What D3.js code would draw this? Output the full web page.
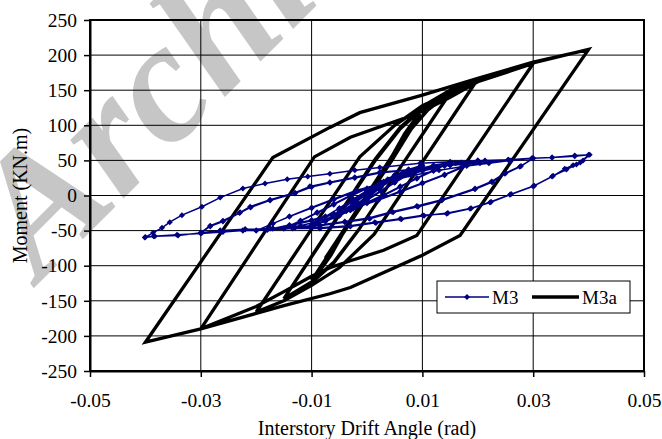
<!DOCTYPE html>
<html><head><meta charset="utf-8">
<script src="https://cdn.jsdelivr.net/npm/d3@7"></script>
<style>
body{margin:0;background:#fff}
svg{display:block}
text{font-family:"Liberation Serif","Times New Roman",serif;fill:#000}
</style>
</head><body>
<svg id="chart" width="662" height="439"></svg>
<script>
// ---- data ----
const xTickValues = [-0.05, -0.03, -0.01, 0.01, 0.03, 0.05];
const xTickLabels = ["-0.05", "-0.03", "-0.01", "0.01", "0.03", "0.05"];
const yTickValues = [-250, -200, -150, -100, -50, 0, 50, 100, 150, 200, 250];
const yTickLabels = ["-250", "-200", "-150", "-100", "-50", "0", "50", "100", "150", "200", "250"];
const seriesNames = ["M3", "M3a"];
const xTitle = "Interstory Drift Angle (rad)";
const yTitle = "Moment (KN.m)";
const watermark = "Archive";

// M3 : [drift (rad), moment (kN.m)]
const m3 = [
[0,0],[0.002,12],[0.00375,22],[0.002,10],[0,-3],[-0.002,-12],[-0.00375,-22],[-0.002,-10],[0,3],[0.002,14],[0.00375,23],[0.002,11],[0,-2],[-0.002,-13],[-0.00375,-22],[-0.002,-9],
[0,4],[0.0025,16],[0.005,28],[0.0025,12],[0,-5],[-0.0025,-17],[-0.005,-28],[-0.0025,-13],[0,5],[0.0025,17],[0.005,29],[0.0025,13],[0,-4],[-0.0025,-17],[-0.005,-28],[-0.0025,-12],
[0,6],[0.0025,18],[0.005,28],[0.0075,36],[0.005,24],[0.0025,12],[0,-3],[-0.0025,-16],[-0.005,-27],[-0.0075,-36],[-0.005,-24],[-0.0025,-12],[0,2],[0.0025,15],[0.005,26],[0.0075,37],[0.005,25],[0.0025,13],[0,-2],[-0.0025,-15],[-0.005,-26],[-0.0075,-36],
[-0.005,-22],[-0.0025,-8],[0,6],[0.0025,18],[0.005,28],[0.0075,36],[0.01,42],[0.0075,30],[0.005,18],[0.0025,6],[0,-7],[-0.0025,-19],[-0.005,-29],[-0.0075,-37],[-0.01,-42],
[-0.0075,-30],[-0.005,-18],[-0.0025,-6],[0,7],[0.0025,19],[0.005,29],[0.0075,37],[0.01,43],[0.0075,31],[0.005,19],[0.0025,7],[0,-6],[-0.0025,-18],[-0.005,-28],[-0.0075,-36],[-0.01,-42],
[-0.0075,-30],[-0.005,-18],[-0.0025,-5],[0,7],[0.003,19],[0.006,29],[0.009,37],[0.012,43],[0.015,47],
[0.012,36],[0.009,25],[0.006,13],[0.003,1],[0,-10],[-0.003,-21],[-0.006,-30],[-0.009,-37],[-0.012,-43],[-0.015,-47],
[-0.012,-36],[-0.009,-25],[-0.006,-13],[-0.003,-1],[0,10],[0.003,20],[0.006,29],[0.009,36],[0.012,42],[0.015,47],
[0.012,35],[0.009,24],[0.006,12],[0.003,0],[0,-11],[-0.003,-21],[-0.006,-30],[-0.009,-37],[-0.012,-43],[-0.015,-47],
[-0.012,-36],[-0.009,-24],[-0.006,-12],[-0.003,0],[0,10],[0.004,22],[0.008,32],[0.012,40],[0.016,46],[0.02,50],
[0.017,40],[0.014,30],[0.01,18],[0.006,6],[0.002,-6],[-0.002,-16],[-0.006,-26],[-0.01,-35],[-0.014,-42],[-0.017,-47],[-0.02,-50],
[-0.017,-40],[-0.014,-30],[-0.01,-18],[-0.006,-6],[-0.002,6],[0.002,16],[0.006,26],[0.01,35],[0.014,42],[0.017,47],[0.02,50],
[0.017,39],[0.014,29],[0.01,17],[0.006,5],[0.002,-7],[-0.002,-17],[-0.006,-27],[-0.01,-36],[-0.014,-43],[-0.017,-47],[-0.02,-50],
[-0.017,-40],[-0.014,-30],[-0.01,-17],[-0.006,-5],[-0.002,7],[0.003,18],[0.008,28],[0.013,36],[0.018,42],[0.022,46],[0.026,50],[0.03,53],
[0.0276,41],[0.0249,31],[0.0226,19],[0.0195,9],[0.0135,-7],[0.0092,-16],[0.0047,-24],[0.0005,-33],[-0.004,-38],[-0.0085,-43],[-0.013,-46],[-0.0175,-47],[-0.022,-48],[-0.0265,-50],[-0.03,-53],
[-0.0283,-43],[-0.026,-36],[-0.0229,-24],[-0.0211,-16],[-0.0175,-6],[-0.013,4],[-0.0103,13],[-0.0067,19],[-0.0022,26],[0.0023,33],[0.0096,38],[0.015,43],[0.0204,46],[0.0258,50],[0.03,53],
[0.0278,42],[0.025,32],[0.0225,20],[0.0195,10],[0.0135,-6],[0.009,-15],[0.0045,-23],[0.0003,-32],[-0.004,-37],[-0.0085,-42],[-0.013,-45],[-0.0175,-47],[-0.022,-48],[-0.0265,-50],[-0.03,-53],
[-0.0283,-44],[-0.026,-37],[-0.023,-25],[-0.021,-17],[-0.0175,-7],[-0.013,3],[-0.01,12],[-0.0067,18],[-0.0022,25],[0.0023,32],[0.0096,38],[0.015,43],[0.0213,49],[0.0255,51],[0.0298,53],[0.0334,54],[0.0375,56],[0.04,58],
[0.0385,47],[0.0372,43],[0.0357,38],[0.0334,27],[0.03,13],[0.0258,1],[0.0222,-10],[0.0186,-19],[0.0144,-26],[0.0101,-28],[0.006,-33],[0.0014,-38],[-0.0031,-43],[-0.0085,-46],[-0.0134,-46],[-0.018,-48],[-0.0224,-50],[-0.026,-51],[-0.0298,-53],[-0.0341,-57],[-0.0383,-58],[-0.0401,-60],
[-0.0386,-53],[-0.037,-46],[-0.0356,-38],[-0.0334,-28],[-0.0298,-16],[-0.0265,-3],[-0.0224,10],[-0.0184,17],[-0.0144,23],[-0.0107,27],[-0.0067,31],[-0.0022,36],[0.0023,40],[0.0096,46],[0.015,48],[0.0213,50],[0.0255,51],[0.0298,53],[0.0334,54],[0.0375,57],[0.0402,58],
[0.039,50],[0.0378,44],[0.036,37],[0.0336,28],[0.0302,14],[0.026,2],[0.0224,-9],[0.0188,-18],[0.0146,-25],[0.0103,-29],[0.0062,-34],[0.0016,-39],[-0.003,-44],[-0.0085,-47],[-0.0134,-47],[-0.018,-49],[-0.0224,-50],[-0.026,-52],[-0.03,-54],[-0.0343,-56],[-0.0385,-58],[-0.04,-59]
];

// M3a : [drift (rad), moment (kN.m)]
const m3a = [
[0,0],[0.00375,45],[-0.00375,-45],[0.00375,46],[-0.00375,-44],
[0.005,60],[-0.005,-60],[0.005,61],[-0.005,-59],
[0.0075,90],[-0.0075,-90],[0.0075,91],[-0.0075,-89],
[0.0035,42],[0.0065,84],[0.0085,107],[0.01,122],
[-0.0035,-42],[-0.0065,-85],[-0.0085,-107],[-0.01,-121],
[0.0038,45],[0.0068,88],[0.0088,110],[0.01,123],
[-0.0038,-45],[-0.0068,-88],[-0.0088,-109],[-0.01,-121],
[0.0045,50],[0.008,95],[0.011,122],[0.015,146],
[-0.0016,-50],[-0.006,-95],[-0.01,-123],[-0.015,-147],
[0.0015,50],[0.006,95],[0.01,124],[0.015,146],
[-0.0016,-50],[-0.006,-96],[-0.01,-124],[-0.015,-147],
[0.0015,52],[0.006,97],[0.01,125],[0.015,148],[0.02,166],
[0.0013,-55],[-0.005,-103],[-0.01,-128],[-0.015,-150],[-0.02,-166],
[-0.0013,55],[0.005,100],[0.01,127],[0.015,150],[0.02,166],
[0.0013,-55],[-0.005,-103],[-0.01,-128],[-0.015,-150],[-0.02,-166],
[-0.0013,55],[0.005,100],[0.01,128],[0.02,165],[0.03,188],
[0.009,-57],[0.003,-78],[-0.003,-93],[-0.0067,-103],[-0.01,-115],[-0.015,-137],[-0.02,-158],[-0.03,-190],
[-0.0095,55],[-0.003,83],[0.0067,110],[0.01,120],[0.015,140],[0.02,162],[0.03,188],
[0.009,-57],[0.003,-78],[-0.003,-93],[-0.0067,-103],[-0.01,-115],[-0.015,-137],[-0.02,-158],[-0.03,-190],
[-0.0095,55],[-0.003,83],[0.0067,110],[0.01,121],[0.02,163],[0.03,189],[0.04,208],
[0.0168,-57],[0.01,-85],[-0.003,-131],[-0.0067,-140],[-0.015,-157],[-0.02,-168],[-0.03,-190],[-0.04,-209],
[-0.017,54],[-0.0067,97],[-0.0013,118],[0.01,143],[0.02,167],[0.03,190],[0.04,208]
];

// ---- layout ----
const svg = d3.select("#chart");
const plot = {left: 90, right: 644, top: 20, bottom: 371};
const x = d3.scaleLinear().domain([-0.05, 0.05]).range([plot.left, plot.right]);
const y = d3.scaleLinear().domain([-250, 250]).range([plot.bottom, plot.top]);

// watermark (behind everything)
svg.append("text")
  .attr("transform", "translate(40,282) rotate(-45)")
  .style("font-size", "172px").style("font-weight", "bold").style("font-style", "italic")
  .style("fill", "#c6c6c6")
  .text(watermark);

// grid
const grid = svg.append("g");
grid.selectAll("line.h").data(yTickValues).join("line")
  .attr("x1", plot.left).attr("x2", plot.right)
  .attr("y1", d => y(d)).attr("y2", d => y(d))
  .attr("stroke", "#000").attr("stroke-width", 1);
grid.selectAll("line.v").data(xTickValues.slice(1, -1)).join("line")
  .attr("y1", plot.top).attr("y2", plot.bottom)
  .attr("x1", d => x(d)).attr("x2", d => x(d))
  .attr("stroke", "#000").attr("stroke-width", 1);

// frame
svg.append("rect").attr("x", plot.left).attr("y", plot.top)
  .attr("width", plot.right - plot.left).attr("height", plot.bottom - plot.top)
  .attr("fill", "none").attr("stroke", "#000").attr("stroke-width", 2);

// axes
const xAxis = d3.axisBottom(x).tickValues(xTickValues)
  .tickFormat((d, i) => xTickLabels[i]).tickSize(6).tickSizeOuter(0).tickPadding(16);
const yAxis = d3.axisLeft(y).tickValues(yTickValues)
  .tickFormat((d, i) => yTickLabels[i]).tickSize(6).tickSizeOuter(0).tickPadding(7);
const gx = svg.append("g").attr("transform", `translate(0,${plot.bottom})`).call(xAxis);
const gy = svg.append("g").attr("transform", `translate(${plot.left},0)`).call(yAxis);
[gx, gy].forEach(g => {
  g.select(".domain").attr("stroke", "#000").attr("stroke-width", 2);
  g.selectAll(".tick line").attr("stroke", "#000").attr("stroke-width", 1.5);
  g.selectAll(".tick text").style("font-size", "19.5px")
    .style("font-family", "'Liberation Serif','Times New Roman',serif").attr("fill", "#000");
});

// series
const line = d3.line().x(d => x(d[0])).y(d => y(d[1]));
svg.append("path").datum(m3a).attr("d", line)
  .attr("fill", "none").attr("stroke", "#000").attr("stroke-width", 3.3)
  .attr("stroke-linejoin", "miter").attr("stroke-miterlimit", 3);

svg.append("path").datum(m3).attr("d", line)
  .attr("fill", "none").attr("stroke", "#000080").attr("stroke-width", 1.5);
const diamond = "M0,-3L3,0L0,3L-3,0Z";
svg.append("g").selectAll("path").data(m3).join("path")
  .attr("d", diamond).attr("transform", d => `translate(${x(d[0])},${y(d[1])})`)
  .attr("fill", "#000080");

// titles
svg.append("text").attr("x", (plot.left + plot.right) / 2).attr("y", 435)
  .attr("text-anchor", "middle").style("font-size", "20px").text(xTitle);
svg.append("text").attr("transform", `translate(27,${(plot.top + plot.bottom) / 2}) rotate(-90)`)
  .attr("text-anchor", "middle").style("font-size", "20px").text(yTitle);

// legend
const lg = svg.append("g");
lg.append("rect").attr("x", 437).attr("y", 281).attr("width", 193).attr("height", 32)
  .attr("fill", "#fff").attr("stroke", "#000").attr("stroke-width", 1);
lg.append("line").attr("x1", 445).attr("x2", 489).attr("y1", 297).attr("y2", 297)
  .attr("stroke", "#000080").attr("stroke-width", 1.5);
lg.append("path").attr("d", diamond).attr("transform", "translate(467,297)").attr("fill", "#000080");
lg.append("text").attr("x", 492).attr("y", 303.5).style("font-size", "19px").text(seriesNames[0]);
lg.append("line").attr("x1", 532).attr("x2", 579).attr("y1", 297).attr("y2", 297)
  .attr("stroke", "#000").attr("stroke-width", 3.5);
lg.append("text").attr("x", 582).attr("y", 303.5).style("font-size", "19px").text(seriesNames[1]);
</script>
</body></html>
